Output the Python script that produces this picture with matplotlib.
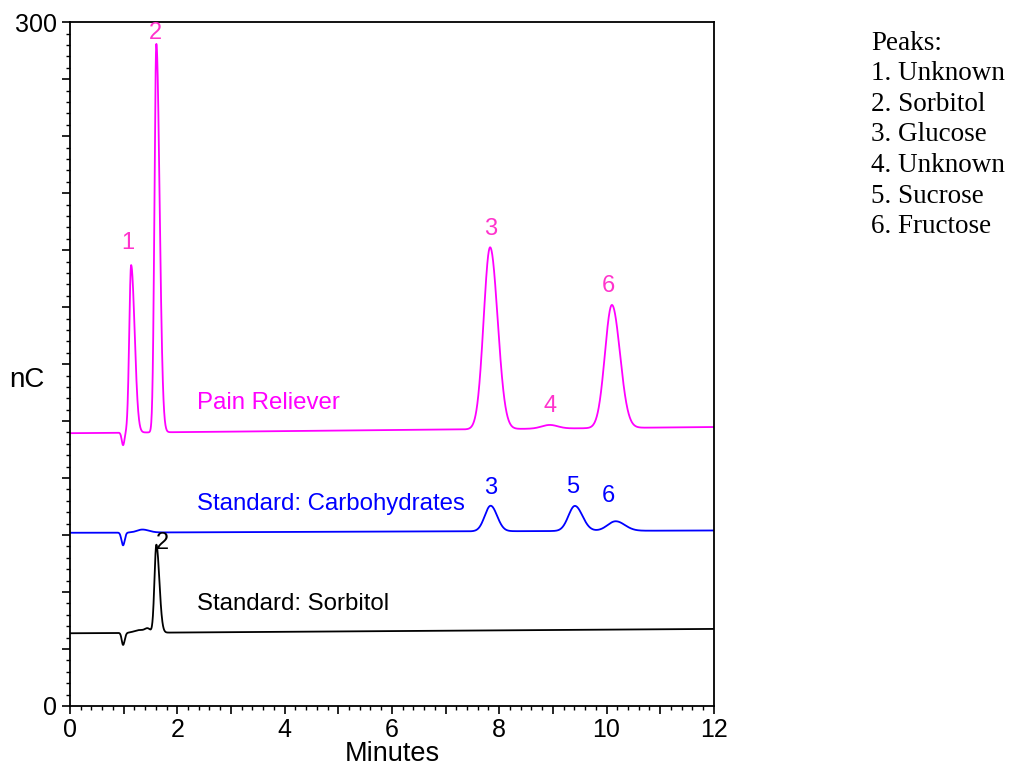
import numpy as np
import matplotlib
matplotlib.use('Agg')
import matplotlib.pyplot as plt
from matplotlib.ticker import MultipleLocator

plt.rcParams['font.family'] = ['Liberation Sans', 'DejaVu Sans']

# retention time (min), height above baseline (nC), left/right width (min)
# Pain Reliever
pain_base = [119.7, 122.4]
pain_rt = [0.99, 1.14, 1.61, 7.83, 8.94, 10.10]
pain_h = [-5.5, 73.5, 170.5, 79.8, 1.6, 54.0]
pain_wl = [0.025, 0.035, 0.035, 0.12, 0.15, 0.13]
pain_wr = [0.025, 0.065, 0.060, 0.14, 0.15, 0.15]

# Standard: Carbohydrates
carb_base = [76.0, 77.0]
carb_rt = [0.99, 1.35, 7.84, 9.41, 10.17]
carb_h = [-5.6, 1.3, 11.2, 11.0, 4.2]
carb_wl = [0.03, 0.10, 0.11, 0.12, 0.15]
carb_wr = [0.03, 0.12, 0.12, 0.14, 0.17]

# Standard: Sorbitol
sorb_base = [31.9, 33.8]
sorb_rt = [0.99, 1.30, 1.45, 1.61]
sorb_h = [-5.3, 1.2, 1.6, 38.6]
sorb_wl = [0.025, 0.10, 0.05, 0.035]
sorb_wr = [0.030, 0.10, 0.05, 0.055]

# peak labels (number, time, nC)
pain_lbl = [('1', 1.08, 203), ('2', 1.60, 295.5), ('3', 7.84, 209.5),
            ('4', 8.94, 131.5), ('6', 10.04, 184.5)]
carb_lbl = [('3', 7.84, 95.6), ('5', 9.37, 96.0), ('6', 10.04, 92.3)]
sorb_lbl = [('2', 1.73, 71.5)]

legend_lines = ['Peaks:', '1. Unknown', '2. Sorbitol', '3. Glucose',
                '4. Unknown', '5. Sucrose', '6. Fructose']

t = np.linspace(0, 12, 4000)


def trace(base, rt, h, wl, wr):
    y = np.interp(t, [0, 12], base)
    for r, hh, a, b in zip(rt, h, wl, wr):
        s = np.where(t < r, a, b)
        y = y + hh * np.exp(-0.5 * ((t - r) / s) ** 2)
    return y


fig = plt.figure(figsize=(10.14, 7.69), dpi=100)
ax = fig.add_axes([0.069, 0.082, 0.635, 0.889])

ax.plot(t, trace(pain_base, pain_rt, pain_h, pain_wl, pain_wr), color='#FF00FF', lw=1.3)
ax.plot(t, trace(carb_base, carb_rt, carb_h, carb_wl, carb_wr), color='#0000FF', lw=1.3)
ax.plot(t, trace(sorb_base, sorb_rt, sorb_h, sorb_wl, sorb_wr), color='black', lw=1.3)

for s, x, y in pain_lbl:
    ax.text(x, y, s, color='#FF33CC', fontsize=17, ha='center', va='center')
for s, x, y in carb_lbl:
    ax.text(x, y, s, color='#0000FF', fontsize=17, ha='center', va='center')
for s, x, y in sorb_lbl:
    ax.text(x, y, s, color='black', fontsize=17, ha='center', va='center')

ax.text(2.37, 132.9, 'Pain Reliever', color='#FF00FF', fontsize=17.3, va='center')
ax.text(2.37, 88.6, 'Standard: Carbohydrates', color='#0000FF', fontsize=17.3, va='center')
ax.text(2.37, 44.7, 'Standard: Sorbitol', color='black', fontsize=17.3, va='center')

ax.set_xlim(0, 12)
ax.set_ylim(0, 300)
ax.xaxis.set_minor_locator(MultipleLocator(0.2))
ax.yaxis.set_minor_locator(MultipleLocator(5))
ax.set_xticks(range(0, 13))
ax.set_xticklabels([str(i) if i % 2 == 0 else '' for i in range(0, 13)])
ax.set_yticks(np.arange(0, 301, 25))
ax.set_yticklabels(['0'] + [''] * 11 + ['300'])
ax.tick_params(which='major', direction='out', length=6, width=1.2, labelsize=18)
ax.tick_params(which='minor', direction='out', length=3, width=1.0)
ax.tick_params(axis='x', pad=3)
ax.tick_params(axis='y', pad=3)
for sp in ax.spines.values():
    sp.set_linewidth(1.3)

ax.set_xlabel('Minutes', fontsize=19.5, labelpad=-1)
fig.text(0.027, 0.506, 'nC', fontsize=20, ha='center', va='center')

for i, s in enumerate(legend_lines):
    fig.text(0.859, 0.944 - i * 0.0398, s, fontsize=19.5, family='Liberation Serif',
             va='center', ha='left')

fig.savefig('out.png', dpi=100)
